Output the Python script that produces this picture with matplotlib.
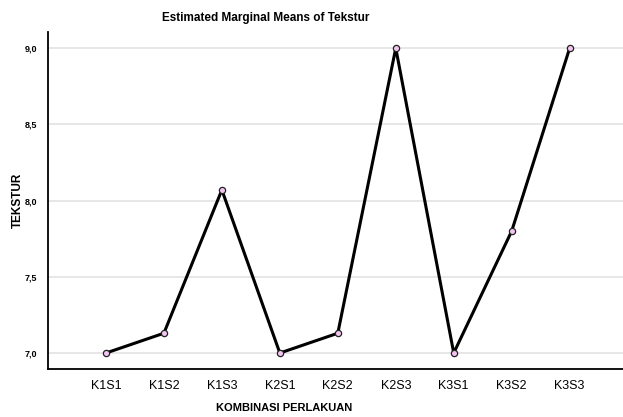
import matplotlib
matplotlib.use("Agg")
import matplotlib.pyplot as plt

plt.rcParams["font.family"] = ["Liberation Sans Narrow", "Liberation Sans", "DejaVu Sans"]

# Estimated marginal means per treatment combination
kombinasi = ["K1S1", "K1S2", "K1S3", "K2S1", "K2S2", "K2S3", "K3S1", "K3S2", "K3S3"]
tekstur = [7.00, 7.13, 8.07, 7.00, 7.13, 9.00, 7.00, 7.80, 9.00]
y_ticks = [7.0, 7.5, 8.0, 8.5, 9.0]
y_tick_labels = ["7,0", "7,5", "8,0", "8,5", "9,0"]

fig = plt.figure(figsize=(6.23, 4.17), dpi=100)
ax = fig.add_axes([0.077, 0.115, 0.923, 0.808])

x = list(range(len(kombinasi)))
ax.plot(x, tekstur, color="black", linewidth=2.2, zorder=3,
        marker="o", markersize=4.5, markerfacecolor="#f2c4f0",
        markeredgecolor="#222222", markeredgewidth=0.9)

ax.set_xlim(-1, 8.92)
ax.set_ylim(6.895, 9.105)
ax.set_xticks(x)
ax.set_xticklabels(kombinasi, fontsize=9)
ax.set_yticks(y_ticks)
ax.set_yticklabels(y_tick_labels, fontsize=6.5, fontweight="bold")
ax.tick_params(axis="both", length=0)
ax.tick_params(axis="x", pad=8)
ax.tick_params(axis="y", pad=8)
ax.grid(axis="y", color="#e3e3e3", linewidth=1.2, zorder=0)

for side in ("top", "right"):
    ax.spines[side].set_visible(False)
for side in ("left", "bottom"):
    ax.spines[side].set_linewidth(1.3)

fig.text(0.426, 0.957, "Estimated Marginal Means of Tekstur", fontsize=8.5,
         fontweight="bold", ha="center", va="center")
fig.text(0.456, 0.022, "KOMBINASI PERLAKUAN", fontsize=8, fontweight="bold",
         ha="center", va="center")
fig.text(0.028, 0.52, "TEKSTUR", fontsize=8.5, fontweight="bold",
         rotation=90, ha="center", va="center")

fig.savefig("out.png", dpi=100)
